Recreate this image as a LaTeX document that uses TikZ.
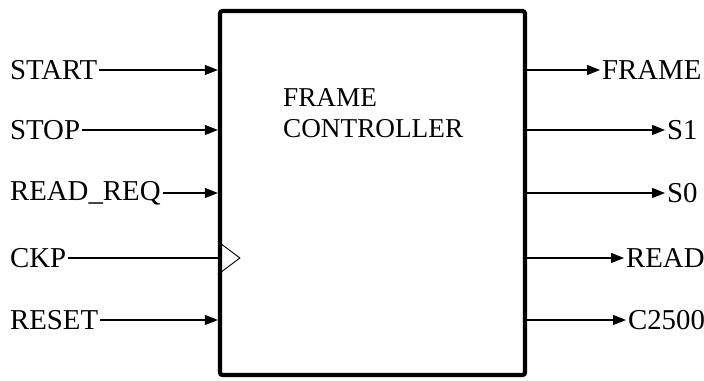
\documentclass[tikz,border=0pt]{standalone}
\usepackage{fontspec}
\setmainfont{Liberation Serif}
\usepackage{tikz}
\usetikzlibrary{arrows.meta}

\begin{document}
\begin{tikzpicture}[
		pin/.style={font=\fontsize{16.4}{18}\selectfont, inner sep=1pt},
		title/.style={font=\fontsize{15.5}{17.6}\selectfont, inner sep=1pt},
		sig/.style={-{Triangle[length=0.26cm,width=0.2cm]}, line width=0.6pt}
	]
		\useasboundingbox (0,0) rectangle (14.08,7.62);

		\node[draw, line width=0.085cm, rounded corners=0.5mm, minimum width=6.1cm, minimum height=7.28cm] (fc) at (7.45,3.76) {};
		\node[title, anchor=north west, align=left] (name) at (5.62,5.9) {FRAME\\CONTROLLER};

		\node[pin, anchor=west] (start) at (0.16,6.22) {START};
		\node[pin, anchor=west] (stop) at (0.16,5.02) {STOP};
		\node[pin, anchor=west] (readreq) at (0.16,3.76) {READ\_REQ};
		\node[pin, anchor=west] (ckp) at (0.16,2.46) {CKP};
		\node[pin, anchor=west] (reset) at (0.16,1.22) {RESET};

		\node[pin, anchor=west] (frame) at (12.0,6.22) {FRAME};
		\node[pin, anchor=west] (sone) at (13.3,5.02) {S1};
		\node[pin, anchor=west] (szero) at (13.3,3.76) {S0};
		\node[pin, anchor=west] (read) at (12.48,2.46) {READ};
		\node[pin, anchor=west] (cout) at (12.52,1.22) {C2500};

		\draw[sig] (start.east) -- (start.east -| fc.west);
		\draw[sig] (stop.east) -- (stop.east -| fc.west);
		\draw[sig] (readreq.east) -- (readreq.east -| fc.west);
		\draw[line width=0.6pt] (ckp.east) -- (ckp.east -| fc.west);
		\draw[sig] (reset.east) -- (reset.east -| fc.west);

		% clock input
		\coordinate (clk) at (ckp.east -| fc.west);
		\draw[line width=0.5pt] ([yshift=0.33cm]clk) -- ([xshift=0.44cm]clk) -- ([yshift=-0.33cm]clk);

		\draw[sig] (frame.west -| fc.east) -- (frame.west);
		\draw[sig] (sone.west -| fc.east) -- (sone.west);
		\draw[sig] (szero.west -| fc.east) -- (szero.west);
		\draw[sig] (read.west -| fc.east) -- (read.west);
		\draw[sig] (cout.west -| fc.east) -- (cout.west);
	\end{tikzpicture}
\end{document}
